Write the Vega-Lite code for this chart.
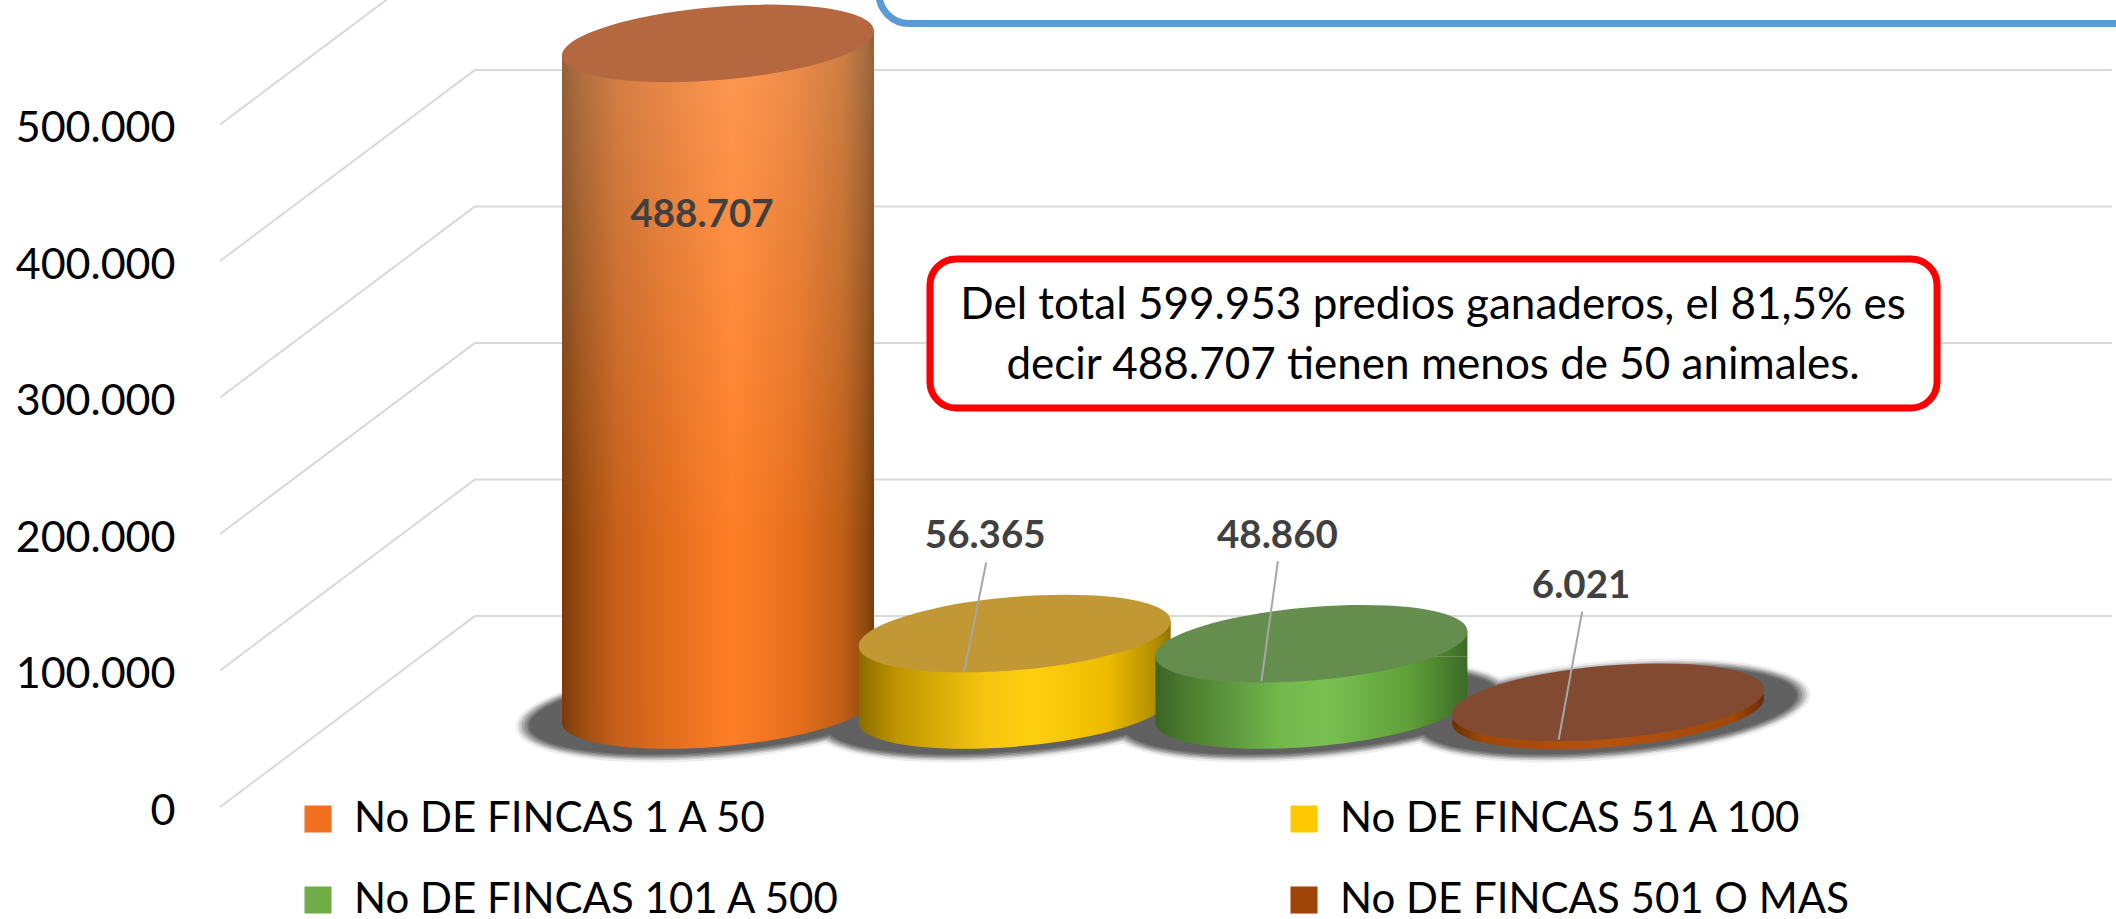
{"$schema":"https://vega.github.io/schema/vega-lite/v6.json","width":1936,"height":919,"autosize":{"type":"none"},"padding":{"left":180,"top":0,"right":0,"bottom":0},"background":"white","config":{"view":{"stroke":null},"font":"Lato","text":{"font":"Lato"},"axisY":{"orient":"left","title":null,"domain":false,"ticks":false,"grid":false,"labelFont":"Lato","labelFontSize":43,"labelColor":"#000000","labelPadding":5,"labelOffset":4}},"datasets":{"cilindros":[{"orden":1,"serie":"No DE FINCAS 1 A 50","valor":488707,"etiqueta":"488.707"},{"orden":2,"serie":"No DE FINCAS 51 A 100","valor":56365,"etiqueta":"56.365"},{"orden":3,"serie":"No DE FINCAS 101 A 500","valor":48860,"etiqueta":"48.860"},{"orden":4,"serie":"No DE FINCAS 501 O MAS","valor":6021,"etiqueta":"6.021"}],"rejilla":[{"nivel":0,"fondo":140000},{"nivel":100000,"fondo":240000},{"nivel":200000,"fondo":340000},{"nivel":300000,"fondo":440000},{"nivel":400000,"fondo":540000},{"nivel":500000,"fondo":640000}]},"resolve":{"scale":{"y":"independent"}},"layer":[{"data":{"name":"rejilla"},"layer":[{"mark":{"type":"rule","color":"#D9D9D9","strokeWidth":2},"encoding":{"x":{"datum":-0.678,"type":"quantitative","scale":{"domain":[-0.8133,5.7118],"nice":false,"zero":false,"padding":0},"axis":null},"x2":{"datum":0.181},"y":{"field":"nivel","type":"quantitative","scale":{"domain":[-82051,591209],"nice":false,"zero":false},"axis":{"title":null,"values":[0,100000,200000,300000,400000,500000],"labelExpr":"replace(format(datum.value,',d'),',','.')"}},"y2":{"field":"fondo"}}},{"mark":{"type":"rule","color":"#D9D9D9","strokeWidth":2},"encoding":{"x":{"datum":0.181,"type":"quantitative","axis":null},"x2":{"datum":5.698},"y":{"field":"fondo","type":"quantitative","axis":{"title":null,"values":[0,100000,200000,300000,400000,500000],"labelExpr":"replace(format(datum.value,',d'),',','.')"}}}},{"data":{"values":[{"nota":"marco azul"}]},"mark":{"type":"rect","fill":"white","stroke":"#5B9BD5","strokeWidth":7,"cornerRadius":30},"encoding":{"x":{"datum":1.5426,"type":"quantitative","axis":null},"x2":{"datum":6},"y":{"datum":620000,"type":"quantitative","axis":{"title":null,"values":[0,100000,200000,300000,400000,500000],"labelExpr":"replace(format(datum.value,',d'),',','.')"}},"y2":{"datum":574000}}},{"data":{"values":[{"nota":"marco rojo"}]},"mark":{"type":"rect","fill":"white","stroke":"#FF0000","strokeWidth":7,"cornerRadius":26},"encoding":{"x":{"datum":1.7145,"type":"quantitative","axis":null},"x2":{"datum":5.1086},"y":{"datum":401465,"type":"quantitative","axis":{"title":null,"values":[0,100000,200000,300000,400000,500000],"labelExpr":"replace(format(datum.value,',d'),',','.')"}},"y2":{"datum":292308}}},{"data":{"values":[{"nota":"Del total 599.953 predios ganaderos, el 81,5% es"}]},"mark":{"type":"text","font":"Lato","fontSize":44,"color":"#000000","align":"center","baseline":"middle"},"encoding":{"text":{"field":"nota"},"x":{"datum":3.41,"type":"quantitative","axis":null},"y":{"datum":367000,"type":"quantitative","axis":{"title":null,"values":[0,100000,200000,300000,400000,500000],"labelExpr":"replace(format(datum.value,',d'),',','.')"}}}},{"data":{"values":[{"nota":"decir 488.707 tienen menos de 50 animales."}]},"mark":{"type":"text","font":"Lato","fontSize":44,"color":"#000000","align":"center","baseline":"middle"},"encoding":{"text":{"field":"nota"},"x":{"datum":3.41,"type":"quantitative","axis":null},"y":{"datum":323000,"type":"quantitative","axis":{"title":null,"values":[0,100000,200000,300000,400000,500000],"labelExpr":"replace(format(datum.value,',d'),',','.')"}}}}]},{"data":{"name":"cilindros"},"encoding":{"x":{"field":"orden","type":"quantitative","scale":{"domain":[-0.8133,5.7118],"nice":false,"zero":false,"padding":0},"axis":null},"y":{"field":"valor","type":"quantitative","stack":null,"scale":{"domain":[-152747,520513],"nice":false,"zero":false},"axis":null}},"layer":[{"mark":{"type":"point","filled":true,"opacity":1,"fill":"#EDEDED","size":164836,"shape":"M -0.9964 0.0844 A 1 0.2404 -4.84 1 1 0.9964 -0.0844 A 1 0.2404 -4.84 1 1 -0.9964 0.0844 Z"},"encoding":{"y":{"datum":0,"type":"quantitative","axis":null}}},{"mark":{"type":"point","filled":true,"opacity":1,"fill":"#CFCFCF","size":164836,"shape":"M -0.9821 0.0832 A 0.9856 0.2308 -4.84 1 1 0.9821 -0.0832 A 0.9856 0.2308 -4.84 1 1 -0.9821 0.0832 Z"},"encoding":{"y":{"datum":0,"type":"quantitative","axis":null}}},{"mark":{"type":"point","filled":true,"opacity":1,"fill":"#ADADAD","size":164836,"shape":"M -0.9677 0.082 A 0.9712 0.2212 -4.84 1 1 0.9677 -0.082 A 0.9712 0.2212 -4.84 1 1 -0.9677 0.082 Z"},"encoding":{"y":{"datum":0,"type":"quantitative","axis":null}}},{"mark":{"type":"point","filled":true,"opacity":1,"fill":"#8E8E8E","size":164836,"shape":"M -0.9533 0.0807 A 0.9567 0.2163 -4.84 1 1 0.9533 -0.0807 A 0.9567 0.2163 -4.84 1 1 -0.9533 0.0807 Z"},"encoding":{"y":{"datum":0,"type":"quantitative","axis":null}}},{"mark":{"type":"point","filled":true,"opacity":1,"fill":"#747474","size":164836,"shape":"M -0.9389 0.0795 A 0.9423 0.2067 -4.84 1 1 0.9389 -0.0795 A 0.9423 0.2067 -4.84 1 1 -0.9389 0.0795 Z"},"encoding":{"y":{"datum":0,"type":"quantitative","axis":null}}},{"mark":{"type":"point","filled":true,"opacity":1,"fill":"#616161","size":164836,"shape":"M -0.9294 0.0787 A 0.9327 0.2019 -4.84 1 1 0.9294 -0.0787 A 0.9327 0.2019 -4.84 1 1 -0.9294 0.0787 Z"},"encoding":{"y":{"datum":0,"type":"quantitative","axis":null}}},{"mark":{"type":"bar","size":2,"orient":"vertical"},"encoding":{"y2":{"datum":0},"fill":{"field":"serie","type":"nominal","sort":null,"scale":{"domain":["No DE FINCAS 1 A 50","No DE FINCAS 51 A 100","No DE FINCAS 101 A 500","No DE FINCAS 501 O MAS"],"range":["#F0701F","#FFC800","#70AD47","#A04306"]},"legend":{"title":null,"orient":"none","legendX":117,"legendY":798,"direction":"horizontal","columns":2,"gridAlign":"all","symbolType":"square","symbolSize":729,"symbolStrokeWidth":0,"labelFont":"Lato","labelFontSize":42,"labelColor":"#000000","labelLimit":900,"labelOffset":15,"rowPadding":39,"columnPadding":420}}}},{"transform":[{"filter":"datum.orden==1"}],"layer":[{"mark":{"type":"point","filled":true,"opacity":1,"size":97969,"shape":"M -0.9966 -0.0798 L 0.9966 -0.0798 A 1 0.232 -4.84 0 1 -0.9966 0.0798 Z","fill":{"gradient":"linear","x1":0,"y1":0,"x2":1,"y2":0,"stops":[{"offset":0,"color":"#7A3A0A"},{"offset":0.06,"color":"#9A4C10"},{"offset":0.18,"color":"#C8601A"},{"offset":0.35,"color":"#E46E1E"},{"offset":0.55,"color":"#FF7F27"},{"offset":0.75,"color":"#E66F1E"},{"offset":0.9,"color":"#C05E15"},{"offset":0.97,"color":"#934A10"},{"offset":1,"color":"#7A3A0A"}]}},"encoding":{"y":{"datum":0,"type":"quantitative","axis":null}}},{"mark":{"type":"bar","size":312,"orient":"vertical","yOffset":12.5,"y2Offset":-12.5,"fill":{"gradient":"linear","x1":0,"y1":0,"x2":1,"y2":0,"stops":[{"offset":0,"color":"#7A3A0A"},{"offset":0.06,"color":"#9A4C10"},{"offset":0.18,"color":"#C8601A"},{"offset":0.35,"color":"#E46E1E"},{"offset":0.55,"color":"#FF7F27"},{"offset":0.75,"color":"#E66F1E"},{"offset":0.9,"color":"#C05E15"},{"offset":0.97,"color":"#934A10"},{"offset":1,"color":"#7A3A0A"}]}},"encoding":{"y2":{"datum":0}}},{"mark":{"type":"bar","size":312,"orient":"vertical","yOffset":12.5,"y2Offset":-12.5,"fill":{"gradient":"linear","x1":0,"y1":0,"x2":0,"y2":1,"stops":[{"offset":0,"color":"rgba(255,255,255,0.2)"},{"offset":0.75,"color":"rgba(255,255,255,0)"},{"offset":1,"color":"rgba(255,255,255,0)"}]}},"encoding":{"y2":{"datum":0}}},{"mark":{"type":"point","filled":true,"opacity":1,"size":97969,"shape":"M -0.9966 0.0798 L 0.9966 -0.0798 L 0.9966 0.0798 Z","fill":{"gradient":"linear","x1":0,"y1":0,"x2":1,"y2":0,"stops":[{"offset":0,"color":"#956138"},{"offset":0.06,"color":"#AE7040"},{"offset":0.18,"color":"#D38048"},{"offset":0.35,"color":"#E98B4B"},{"offset":0.55,"color":"#FF9952"},{"offset":0.75,"color":"#EB8C4B"},{"offset":0.9,"color":"#CD7E44"},{"offset":0.97,"color":"#A96E40"},{"offset":1,"color":"#956138"}]}}},{"mark":{"type":"point","filled":true,"opacity":1,"size":97969,"fill":"#B5683F","shape":"M -0.9964 0.0844 A 1 0.232 -4.84 1 1 0.9964 -0.0844 A 1 0.232 -4.84 1 1 -0.9964 0.0844 Z"}}]},{"transform":[{"filter":"datum.orden==2"}],"layer":[{"mark":{"type":"point","filled":true,"opacity":1,"size":97969,"shape":"M -0.9966 -0.0798 L 0.9966 -0.0798 A 1 0.232 -4.84 0 1 -0.9966 0.0798 Z","fill":{"gradient":"linear","x1":0,"y1":0,"x2":1,"y2":0,"stops":[{"offset":0,"color":"#8A6B00"},{"offset":0.12,"color":"#BE9500"},{"offset":0.4,"color":"#F4C410"},{"offset":0.55,"color":"#FFD010"},{"offset":0.8,"color":"#EDBB00"},{"offset":0.96,"color":"#AE8A00"},{"offset":1,"color":"#917200"}]}},"encoding":{"y":{"datum":0,"type":"quantitative","axis":null}}},{"mark":{"type":"bar","size":312,"orient":"vertical","yOffset":12.5,"y2Offset":-12.5,"fill":{"gradient":"linear","x1":0,"y1":0,"x2":1,"y2":0,"stops":[{"offset":0,"color":"#8A6B00"},{"offset":0.12,"color":"#BE9500"},{"offset":0.4,"color":"#F4C410"},{"offset":0.55,"color":"#FFD010"},{"offset":0.8,"color":"#EDBB00"},{"offset":0.96,"color":"#AE8A00"},{"offset":1,"color":"#917200"}]}},"encoding":{"y2":{"datum":0}}},{"mark":{"type":"point","filled":true,"opacity":1,"size":97969,"shape":"M -0.9966 0.0798 L 0.9966 -0.0798 L 0.9966 0.0798 Z","fill":{"gradient":"linear","x1":0,"y1":0,"x2":1,"y2":0,"stops":[{"offset":0,"color":"#8A6B00"},{"offset":0.12,"color":"#BE9500"},{"offset":0.4,"color":"#F4C410"},{"offset":0.55,"color":"#FFD010"},{"offset":0.8,"color":"#EDBB00"},{"offset":0.96,"color":"#AE8A00"},{"offset":1,"color":"#917200"}]}}},{"mark":{"type":"point","filled":true,"opacity":1,"size":97969,"fill":"#C19833","shape":"M -0.9964 0.0844 A 1 0.232 -4.84 1 1 0.9964 -0.0844 A 1 0.232 -4.84 1 1 -0.9964 0.0844 Z"}}]},{"transform":[{"filter":"datum.orden==3"}],"layer":[{"mark":{"type":"point","filled":true,"opacity":1,"size":97969,"shape":"M -0.9966 -0.0798 L 0.9966 -0.0798 A 1 0.232 -4.84 0 1 -0.9966 0.0798 Z","fill":{"gradient":"linear","x1":0,"y1":0,"x2":1,"y2":0,"stops":[{"offset":0,"color":"#3A6426"},{"offset":0.12,"color":"#4E8030"},{"offset":0.4,"color":"#72B84C"},{"offset":0.55,"color":"#7AC052"},{"offset":0.82,"color":"#5F9E38"},{"offset":1,"color":"#3C6B26"}]}},"encoding":{"y":{"datum":0,"type":"quantitative","axis":null}}},{"mark":{"type":"bar","size":312,"orient":"vertical","yOffset":12.5,"y2Offset":-12.5,"fill":{"gradient":"linear","x1":0,"y1":0,"x2":1,"y2":0,"stops":[{"offset":0,"color":"#3A6426"},{"offset":0.12,"color":"#4E8030"},{"offset":0.4,"color":"#72B84C"},{"offset":0.55,"color":"#7AC052"},{"offset":0.82,"color":"#5F9E38"},{"offset":1,"color":"#3C6B26"}]}},"encoding":{"y2":{"datum":0}}},{"mark":{"type":"point","filled":true,"opacity":1,"size":97969,"shape":"M -0.9966 0.0798 L 0.9966 -0.0798 L 0.9966 0.0798 Z","fill":{"gradient":"linear","x1":0,"y1":0,"x2":1,"y2":0,"stops":[{"offset":0,"color":"#3A6426"},{"offset":0.12,"color":"#4E8030"},{"offset":0.4,"color":"#72B84C"},{"offset":0.55,"color":"#7AC052"},{"offset":0.82,"color":"#5F9E38"},{"offset":1,"color":"#3C6B26"}]}}},{"mark":{"type":"point","filled":true,"opacity":1,"size":97969,"fill":"#658E4E","shape":"M -0.9964 0.0844 A 1 0.232 -4.84 1 1 0.9964 -0.0844 A 1 0.232 -4.84 1 1 -0.9964 0.0844 Z"}}]},{"transform":[{"filter":"datum.orden==4"}],"layer":[{"mark":{"type":"point","filled":true,"opacity":1,"size":97969,"shape":"M -0.9964 0.0844 A 1 0.232 -4.84 1 1 0.9964 -0.0844 A 1 0.232 -4.84 1 1 -0.9964 0.0844 Z","fill":{"gradient":"linear","x1":0,"y1":0,"x2":1,"y2":0,"stops":[{"offset":0,"color":"#6B2E05"},{"offset":0.1,"color":"#A04808"},{"offset":0.5,"color":"#B5520F"},{"offset":0.9,"color":"#A04808"},{"offset":1,"color":"#6B2E05"}]}},"encoding":{"y":{"datum":0,"type":"quantitative","axis":null}}},{"mark":{"type":"point","filled":true,"opacity":1,"size":97969,"fill":"#824A30","shape":"M -0.9964 0.0844 A 1 0.232 -4.84 1 1 0.9964 -0.0844 A 1 0.232 -4.84 1 1 -0.9964 0.0844 Z"}}]},{"transform":[{"filter":"datum.orden==2"}],"mark":{"type":"rule","color":"#A6A6A6","strokeWidth":2,"xOffset":-28.5,"yOffset":-71,"x2Offset":-50.5,"y2Offset":38},"encoding":{"x2":{"field":"orden"},"y2":{"field":"valor"}}},{"transform":[{"filter":"datum.orden==3"}],"mark":{"type":"rule","color":"#A6A6A6","strokeWidth":2,"xOffset":-33.5,"yOffset":-82.7,"x2Offset":-50,"y2Offset":37.3},"encoding":{"x2":{"field":"orden"},"y2":{"field":"valor"}}},{"transform":[{"filter":"datum.orden==4"}],"mark":{"type":"rule","color":"#A6A6A6","strokeWidth":2,"xOffset":-26,"yOffset":-90.5,"x2Offset":-49.5,"y2Offset":37.5},"encoding":{"x2":{"field":"orden"},"y2":{"field":"valor"}}},{"transform":[{"filter":"datum.orden==1"}],"mark":{"type":"text","font":"Lato","fontWeight":"bold","fontSize":38.5,"color":"#404040","align":"center","baseline":"middle","dx":-16,"dy":172},"encoding":{"text":{"field":"etiqueta"}}},{"transform":[{"filter":"datum.orden==2"}],"mark":{"type":"text","font":"Lato","fontWeight":"bold","fontSize":38.5,"color":"#404040","align":"center","baseline":"middle","dx":-29.5,"dy":-97.5},"encoding":{"text":{"field":"etiqueta"}}},{"transform":[{"filter":"datum.orden==3"}],"mark":{"type":"text","font":"Lato","fontWeight":"bold","fontSize":38.5,"color":"#404040","align":"center","baseline":"middle","dx":-34,"dy":-108.2},"encoding":{"text":{"field":"etiqueta"}}},{"transform":[{"filter":"datum.orden==4"}],"mark":{"type":"text","font":"Lato","fontWeight":"bold","fontSize":38.5,"color":"#404040","align":"center","baseline":"middle","dx":-27,"dy":-116.5},"encoding":{"text":{"field":"etiqueta"}}}]}]}
